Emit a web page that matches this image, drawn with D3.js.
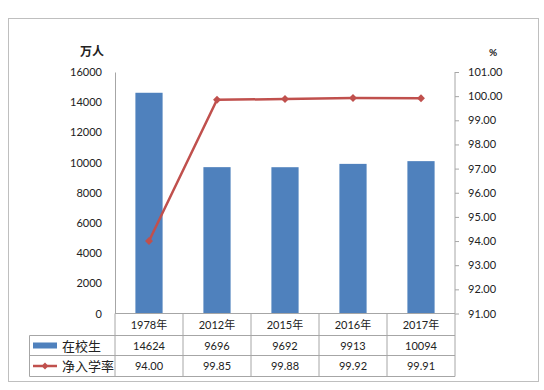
<!DOCTYPE html>
<html><head><meta charset="utf-8">
<script src="https://cdn.jsdelivr.net/npm/d3@7"></script>
<style>
body{margin:0;background:#fff;}
text{font-family:Lato,"Noto Sans CJK SC",sans-serif;fill:#222;}
</style></head><body>
<svg id="c" width="544" height="390"></svg>
<script>
const categories = ["1978年","2012年","2015年","2016年","2017年"];
const students = [14624, 9696, 9692, 9913, 10094];
const rates = [94.00, 99.85, 99.88, 99.92, 99.91];
const studentLabels = ["14624","9696","9692","9913","10094"];
const rateLabels = ["94.00","99.85","99.88","99.92","99.91"];
const leftTicks = [0,2000,4000,6000,8000,10000,12000,14000,16000];
const rightTicks = [91,92,93,94,95,96,97,98,99,100,101];
const seriesNames = ["在校生","净入学率"];

const svg = d3.select("#c");
const L = 115, R = 455, T = 72, B = 313.5;
const blue = "#4F81BD", red = "#C0504D", grid = "#A6A6A6";

// outer border
svg.append("rect").attr("x",8.5).attr("y",18.5).attr("width",530).attr("height",363)
  .attr("fill","none").attr("stroke","#BFBFBF");

const x = d3.scaleBand().domain(categories).range([L,R]).padding(0);
const yL = d3.scaleLinear().domain([0,16000]).range([B,T]);
const yR = d3.scaleLinear().domain([91,101]).range([B,T]);

// bars
const bw = x.bandwidth()*0.4;
svg.append("g").selectAll("rect").data(categories).join("rect")
  .attr("x",(d)=>x(d)+x.bandwidth()/2-bw/2)
  .attr("y",(d,i)=>yL(students[i]))
  .attr("width",bw)
  .attr("height",(d,i)=>yL(0)-yL(students[i]))
  .attr("fill",blue);

// left axis
const gl = svg.append("g").attr("transform",`translate(${L},0)`)
  .call(d3.axisLeft(yL).tickValues(leftTicks).tickSize(0).tickPadding(13).tickFormat(d3.format("d")));
gl.select(".domain").attr("stroke",grid);
gl.selectAll("text").attr("font-size",11).attr("fill","#222");

// right axis
const gr = svg.append("g").attr("transform",`translate(${R},0)`)
  .call(d3.axisRight(yR).tickValues(rightTicks).tickSize(4).tickPadding(9).tickFormat(d3.format(".2f")));
gr.select(".domain").attr("stroke",grid).attr("d",`M0,${T}V${B}`);
gr.selectAll("line").attr("stroke",grid);
gr.selectAll("text").attr("font-size",11).attr("fill","#222");

// unit labels
svg.append("text").attr("x",92).attr("y",56).attr("text-anchor","middle")
  .attr("font-size",12).attr("font-weight","bold").text("万人");
svg.append("text").attr("x",493).attr("y",56).attr("text-anchor","middle")
  .attr("font-size",10).attr("font-weight","bold").text("%");

// line
const cx = (d)=>x(d)+x.bandwidth()/2;
const line = d3.line().x((d,i)=>cx(categories[i])).y((d)=>yR(d));
svg.append("path").datum(rates).attr("d",line).attr("fill","none")
  .attr("stroke",red).attr("stroke-width",2.5);
svg.append("g").selectAll("path").data(rates).join("path")
  .attr("d",d3.symbol(d3.symbolDiamond2 || d3.symbolDiamond,40))
  .attr("transform",(d,i)=>`translate(${cx(categories[i])},${yR(d)})`)
  .attr("fill",red);

// data table
const rowY = [B, 335.5, 355.5, 376.5];
const legL = 29.5;
const tg = svg.append("g").attr("stroke",grid).attr("fill","none");
// x axis line
tg.append("line").attr("x1",L).attr("x2",R).attr("y1",B).attr("y2",B);
// horizontal lines
tg.append("line").attr("x1",legL).attr("x2",R).attr("y1",rowY[1]).attr("y2",rowY[1]);
tg.append("line").attr("x1",legL).attr("x2",R).attr("y1",rowY[2]).attr("y2",rowY[2]);
tg.append("line").attr("x1",legL).attr("x2",R).attr("y1",rowY[3]).attr("y2",rowY[3]);
// vertical lines
const vx = categories.map(d=>x(d)).concat([R]);
vx.forEach(v=>{
  tg.append("line").attr("x1",v).attr("x2",v).attr("y1",B).attr("y2",rowY[3]);
});
tg.append("line").attr("x1",legL).attr("x2",legL).attr("y1",rowY[1]).attr("y2",rowY[3]);

// category labels
svg.append("g").selectAll("text").data(categories).join("text")
  .attr("x",d=>cx(d)).attr("y",(rowY[0]+rowY[1])/2+4).attr("text-anchor","middle")
  .attr("font-size",11).text(d=>d);
svg.append("g").selectAll("text").data(studentLabels).join("text")
  .attr("x",(d,i)=>cx(categories[i])).attr("y",(rowY[1]+rowY[2])/2+4).attr("text-anchor","middle")
  .attr("font-size",11).text(d=>d);
svg.append("g").selectAll("text").data(rateLabels).join("text")
  .attr("x",(d,i)=>cx(categories[i])).attr("y",(rowY[2]+rowY[3])/2+4).attr("text-anchor","middle")
  .attr("font-size",11).text(d=>d);

// legend keys
const m1 = (rowY[1]+rowY[2])/2, m2 = (rowY[2]+rowY[3])/2;
svg.append("rect").attr("x",33).attr("y",m1-3).attr("width",24).attr("height",6).attr("fill",blue);
svg.append("line").attr("x1",33).attr("x2",57).attr("y1",m2).attr("y2",m2)
  .attr("stroke",red).attr("stroke-width",2.5);
svg.append("path").attr("d",d3.symbol(d3.symbolDiamond2 || d3.symbolDiamond,30))
  .attr("transform",`translate(45,${m2})`).attr("fill",red);
svg.append("text").attr("x",62).attr("y",m1+5).attr("font-size",13).text(seriesNames[0]);
svg.append("text").attr("x",62).attr("y",m2+5).attr("font-size",13).text(seriesNames[1]);
</script>
</body></html>
